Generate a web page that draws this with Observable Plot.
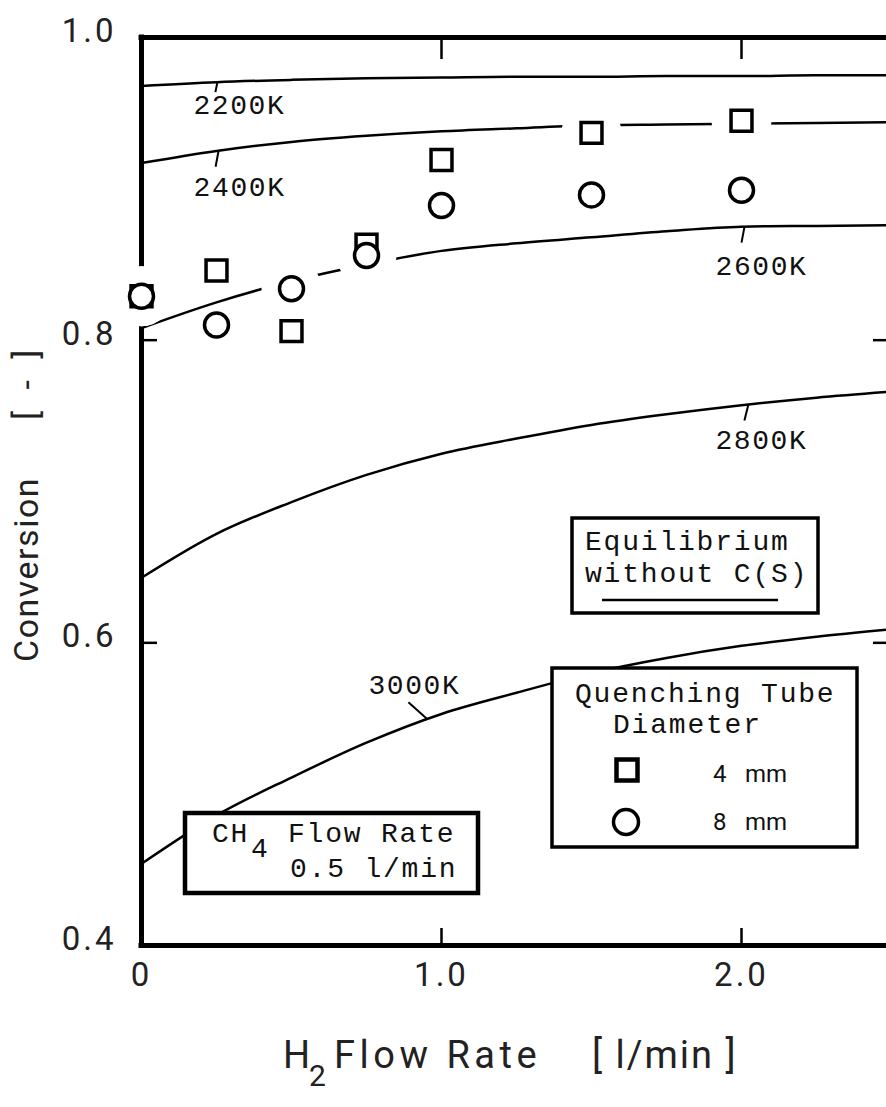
<!DOCTYPE html>
<html><head><meta charset="utf-8">
<script src="https://cdn.jsdelivr.net/npm/d3@7"></script>
<script src="https://cdn.jsdelivr.net/npm/@observablehq/plot@0.6"></script>
<style>
html,body{margin:0;padding:0;background:#fff;overflow:hidden}
#chart{position:relative;width:886px;height:1107px}
svg{display:block}
</style></head><body><div id="chart"></div>
<script>
// ---------- data ----------
const h2Flow   = [0, 0.25, 0.5, 0.75, 1.0, 1.5, 2.0];          // H2 flow rate [l/min]
const conv4mm  = [0.829, 0.846, 0.806, 0.863, 0.919, 0.937, 0.945]; // square markers
const conv8mm  = [0.829, 0.810, 0.834, 0.856, 0.889, 0.896, 0.899]; // circle markers
const gap4mm   = [true, false, false, false, false, true, true];   // marker interrupts a curve
const gap8mm   = [true, false, true, true, false, false, false];

const eqFlow = [0, 0.25, 0.5, 0.75, 1.0, 1.25, 1.5, 1.75, 2.0, 2.25, 2.5];
const eq2200 = [0.968, 0.9705, 0.972, 0.973, 0.9735, 0.974, 0.974, 0.9745, 0.9745, 0.975, 0.975];
const eq2400 = [0.917, 0.925, 0.931, 0.935, 0.938, 0.940, 0.942, 0.9425, 0.943, 0.9435, 0.944];
const eq2600 = [0.808, 0.825, 0.839, 0.850, 0.859, 0.864, 0.868, 0.872, 0.875, 0.8755, 0.876];
const eq2800 = [0.643, 0.672, 0.693, 0.711, 0.725, 0.735, 0.744, 0.751, 0.757, 0.762, 0.766];
const eq3000 = [0.454, 0.486, 0.511, 0.534, 0.553, 0.567, 0.580, 0.590, 0.598, 0.604, 0.609];
const eqTemps = ["2200K", "2400K", "2600K", "2800K", "3000K"];

const yTickValues = [0.4, 0.6, 0.8, 1.0];
const yTickLabels = ["0.4", "0.6", "0.8", "1.0"];
const xTickValues = [0, 1, 2];
const xTickLabels = ["0", "1.0", "2.0"];
const innerXTicks = [1, 2];
const innerYTicks = [0.6, 0.8];

const xTitleMain = "H", xTitleSub = "2", xTitleRest = "Flow Rate", xTitleUnit = "[ l/min ]";
const yTitleMain = "Conversion", yTitleUnit = "[  -  ]";
const eqLegendLines = ["Equilibrium", "without C(S)"];
const diamTitle = ["Quenching Tube", "Diameter"];
const diamLabels = [["4", "mm"], ["8", "mm"]];
const ch4Text = ["CH", "4", "Flow Rate", "0.5 l/min"];

// ---------- layout ----------
const W = 886, H = 1107;
const xDomain = [0, 2.5], xRange = [141, 891];
const yDomain = [0.4, 1.0], yRange = [945, 37];
const pxX = (xDomain[1] - xDomain[0]) / (xRange[1] - xRange[0]);
const pxY = (yDomain[1] - yDomain[0]) / (yRange[0] - yRange[1]);
const mono = "'Liberation Mono', 'DejaVu Sans Mono', monospace";
const sans = "Roboto, 'Liberation Sans', sans-serif";

// label anchor (x on curve) + label offset and leader offset in pixels
const labelLayout = [
  {u: 0.253, dx: -24, dy: 32, lx: -2, ly: 10},
  {u: 0.257, dx: -25, dy: 45, lx: -3, ly: 16},
  {u: 2.01,  dx: -29, dy: 48, lx: -3, ly: 16},
  {u: 2.023, dx: -33, dy: 44, lx: -4, ly: 16},
  {u: 0.953, dx: -59, dy: -25, lx: -19, ly: -17}
];

// ---------- build tables ----------
const eqSeries = [eq2200, eq2400, eq2600, eq2800, eq3000];
const eqData = eqTemps.flatMap((T, i) => eqFlow.map((x, j) => ({T, x, y: eqSeries[i][j]})));
const pts4 = h2Flow.map((x, i) => ({x, y: conv4mm[i], gap: gap4mm[i]}));
const pts8 = h2Flow.map((x, i) => ({x, y: conv8mm[i], gap: gap8mm[i]}));
const halos = [...pts4, ...pts8].filter(d => d.gap);
const labelData = eqTemps.map((T, i) => {
  const L = labelLayout[i];
  const v = d3.scaleLinear().domain(eqFlow).range(eqSeries[i])(L.u);
  return {T, x: L.u, y: v,
    x2: L.u + L.lx * pxX, y2: v - L.ly * pxY,
    tx: L.u + L.dx * pxX, ty: v - L.dy * pxY};
});

const plot = Plot.plot({
  width: W, height: H,
  x: {domain: xDomain, range: xRange},
  y: {domain: yDomain, range: yRange},
  axis: null,
  style: {background: "white", overflow: "hidden"},
  marks: [
    // frame
    Plot.ruleY([yDomain[1], yDomain[0]], {x1: xDomain[0], x2: xDomain[1], stroke: "black", strokeWidth: 5, strokeLinecap: "square"}),
    Plot.ruleX([xDomain[0], xDomain[1]], {y1: yDomain[0], y2: yDomain[1], stroke: "black", strokeWidth: 5, strokeLinecap: "square"}),
    // inner ticks
    Plot.ruleX(innerXTicks, {y1: yDomain[1], y2: yDomain[1] - 22 * pxY, stroke: "black", strokeWidth: 2.5}),
    Plot.ruleX(innerXTicks, {y1: yDomain[0], y2: yDomain[0] + 17 * pxY, stroke: "black", strokeWidth: 2.5}),
    Plot.ruleY(innerYTicks, {x1: xDomain[0], x2: xDomain[0] + 16 * pxX, stroke: "black", strokeWidth: 2.5}),
    Plot.ruleY(innerYTicks, {x1: xDomain[1] - 18 * pxX, x2: xDomain[1], stroke: "black", strokeWidth: 2.5}),
    // tick labels
    Plot.text(yTickValues, {x: 0, y: d => d, text: (d, i) => yTickLabels[i], dx: -25, dy: -6,
      textAnchor: "end", fontFamily: sans, fontSize: 33, fill: "#222"}),
    Plot.text(xTickValues, {x: d => d, y: yDomain[0], text: (d, i) => xTickLabels[i], dy: 30,
      textAnchor: "middle", fontFamily: sans, fontSize: 33, fill: "#222"}),
    // equilibrium curves
    Plot.line(eqData, {x: "x", y: "y", z: "T", stroke: "black", strokeWidth: 2.5, curve: "monotone-x"}),
    // curve labels
    Plot.link(labelData, {x1: "x", y1: "y", x2: "x2", y2: "y2", stroke: "black", strokeWidth: 2}),
    Plot.text(labelData, {x: "tx", y: "ty", text: "T", textAnchor: "start", lineAnchor: "bottom",
      fontFamily: mono, fontSize: 28, fill: "#111"}),
    // white gaps where markers interrupt curves
    Plot.dot(halos, {x: "x", y: "y", r: 30, fill: "white", stroke: null}),
    // markers
    Plot.dot(pts4, {x: "x", y: "y", symbol: "square", r: 11.8, fill: "white", stroke: "black", strokeWidth: 3.5}),
    Plot.dot(pts8, {x: "x", y: "y", r: 12, fill: "white", stroke: "black", strokeWidth: 3.5})
  ]
});

document.getElementById("chart").appendChild(plot);

// letter spacing for the typewriter-like labels
const svg = d3.select(plot);
svg.selectAll("g[font-family*='Mono'] text").attr("letter-spacing", 1.6);
svg.selectAll("g[font-family*='Roboto'] text").attr("letter-spacing", 3);

// ---------- annotation boxes ----------
const ann = svg.append("g").attr("text-anchor", "start");
function box(x, y, w, h, sw) {
  ann.append("rect").attr("x", x).attr("y", y).attr("width", w).attr("height", h)
    .attr("fill", "white").attr("stroke", "black").attr("stroke-width", sw);
}
function txt(x, y, s, font, size) {
  return ann.append("text").attr("x", x).attr("y", y).text(s)
    .attr("text-anchor", "start")
    .attr("font-family", font).attr("font-size", size).attr("fill", "#111")
    .attr("letter-spacing", font === mono ? 1.8 : 0).style("white-space", "pre");
}
// Equilibrium legend
box(572, 518, 246, 95, 3.5);
txt(585, 550, eqLegendLines[0], mono, 28);
txt(585, 582, eqLegendLines[1], mono, 28);
ann.append("line").attr("x1", 602).attr("x2", 778).attr("y1", 600).attr("y2", 600)
  .attr("stroke", "black").attr("stroke-width", 2.5);

// Quenching tube legend
box(552, 668, 305, 179, 3.5);
txt(575, 702, diamTitle[0], mono, 28);
txt(613, 733, diamTitle[1], mono, 28);
ann.append("rect").attr("x", 616.5).attr("y", 759.5).attr("width", 21).attr("height", 21)
  .attr("fill", "white").attr("stroke", "black").attr("stroke-width", 4.5);
ann.append("circle").attr("cx", 626).attr("cy", 822).attr("r", 12.5)
  .attr("fill", "white").attr("stroke", "black").attr("stroke-width", 3.5);
txt(713, 782, diamLabels[0][0], sans, 24);
txt(745, 782, diamLabels[0][1], sans, 24);
txt(713, 830, diamLabels[1][0], sans, 24);
txt(745, 830, diamLabels[1][1], sans, 24);

// CH4 flow rate box
box(185, 813, 293, 80, 4.5);
txt(212, 842, ch4Text[0], mono, 28);
txt(251, 857, ch4Text[1], mono, 28);
txt(288, 842, ch4Text[2], mono, 28);
txt(290, 877, ch4Text[3], mono, 28);

// ---------- axis titles ----------
const xt = ann.append("text").attr("font-family", sans).attr("font-size", 38).attr("fill", "#222")
  .attr("text-anchor", "start").attr("letter-spacing", 2).style("white-space", "pre");
xt.append("tspan").attr("x", 283).attr("y", 1068).text(xTitleMain);
xt.append("tspan").attr("x", 309).attr("y", 1086).attr("font-size", 30).text(xTitleSub);
xt.append("tspan").attr("x", 334).attr("y", 1068).attr("letter-spacing", 4.5).text(xTitleRest);
xt.append("tspan").attr("x", 592).attr("y", 1068).text(xTitleUnit);

const yt = ann.append("text").attr("font-family", sans).attr("font-size", 34).attr("fill", "#222")
  .attr("text-anchor", "start").attr("letter-spacing", 1.5).style("white-space", "pre")
  .attr("transform", "translate(38,662) rotate(-90)");
yt.append("tspan").attr("x", 0).attr("y", 0).text(yTitleMain);
yt.append("tspan").attr("x", 242).attr("y", 0).text(yTitleUnit);
</script>
</body></html>
